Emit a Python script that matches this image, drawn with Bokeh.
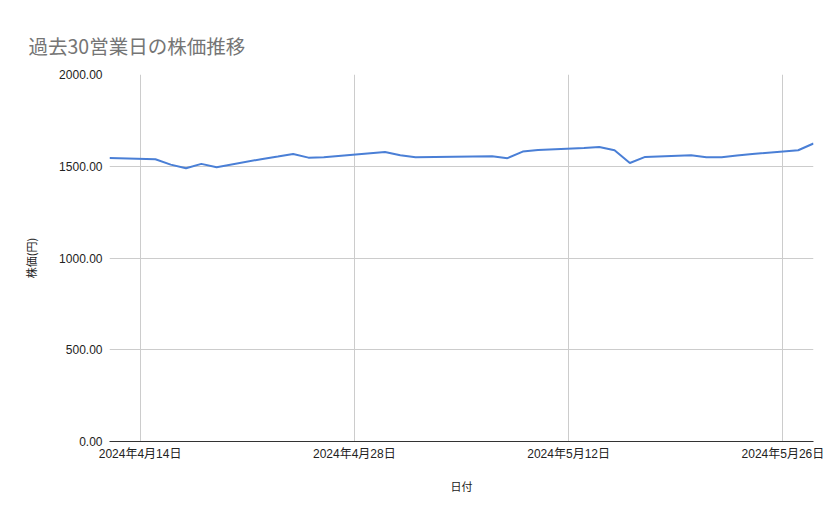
from datetime import datetime
from bokeh.plotting import figure
from bokeh.models import (ColumnDataSource, FixedTicker, CustomJSTickFormatter,
                          Range1d, Title, NumeralTickFormatter)
from bokeh.embed import file_html
from bokeh.resources import INLINE

dates = ["2024-04-12", "2024-04-15", "2024-04-16", "2024-04-17", "2024-04-18",
         "2024-04-19", "2024-04-22", "2024-04-23", "2024-04-24", "2024-04-25",
         "2024-04-26", "2024-04-30", "2024-05-01", "2024-05-02", "2024-05-07",
         "2024-05-08", "2024-05-09", "2024-05-10", "2024-05-13", "2024-05-14",
         "2024-05-15", "2024-05-16", "2024-05-17", "2024-05-20", "2024-05-21",
         "2024-05-22", "2024-05-23", "2024-05-24", "2024-05-27", "2024-05-28"]
prices = [1545, 1538, 1509, 1489, 1513,
          1495, 1540, 1553, 1567, 1547,
          1549, 1578, 1560, 1549, 1555,
          1544, 1580, 1589, 1600, 1605,
          1587, 1518, 1551, 1560, 1549,
          1549, 1558, 1567, 1587, 1624]
x_ticks = ["2024-04-14", "2024-04-28", "2024-05-12", "2024-05-26"]
y_ticks = [0, 500, 1000, 1500, 2000]

title_text = "過去30営業日の株価推移"
x_title = "日付"
y_title = "株価(円)"

FONT = "Liberation Sans, Noto Sans CJK JP"
CJK = "Noto Sans CJK JP"

def ms(s):
    return datetime.strptime(s, "%Y-%m-%d").timestamp() * 1000.0

xs = [datetime.strptime(d, "%Y-%m-%d") for d in dates]
src = ColumnDataSource(dict(x=xs, y=prices))

p = figure(width=831, height=511, x_axis_type="datetime",
           output_backend="svg", toolbar_location=None,
           min_border_left=109, min_border_right=18,
           min_border_top=74, min_border_bottom=70)
p.x_range = Range1d(xs[0], xs[-1])
p.y_range = Range1d(0, 2000)

t = Title(text=title_text, text_font=CJK, text_font_size="19.5px",
          text_color="#757575", text_font_style="normal",
          offset=-87, standoff=18, padding=6)
p.add_layout(t, "above")

p.line("x", "y", source=src, line_color="#4A7FD6", line_width=2)

p.outline_line_color = None
p.background_fill_color = "white"

xa = p.xaxis[0]
xa.ticker = FixedTicker(ticks=[ms(s) for s in x_ticks])
xa.formatter = CustomJSTickFormatter(code="""
const d = new Date(tick);
return d.getFullYear() + '年' + (d.getMonth() + 1) + '月' + d.getDate() + '日';
""")
xa.axis_line_color = "#333333"
xa.axis_line_width = 1
xa.major_tick_line_color = None
xa.minor_tick_line_color = None
xa.major_tick_out = 0
xa.minor_tick_out = 0
xa.major_label_text_font = FONT
xa.major_label_text_font_size = "12px"
xa.major_label_text_color = "#222222"
xa.major_label_standoff = 5
xa.axis_label = x_title
xa.axis_label_text_font = CJK
xa.axis_label_text_font_size = "11px"
xa.axis_label_text_font_style = "normal"
xa.axis_label_text_color = "#222222"
xa.axis_label_standoff = 14

ya = p.yaxis[0]
ya.ticker = FixedTicker(ticks=y_ticks)
ya.formatter = NumeralTickFormatter(format="0.00")
ya.axis_line_color = None
ya.major_tick_line_color = None
ya.minor_tick_line_color = None
ya.major_tick_out = 0
ya.minor_tick_out = 0
ya.major_label_text_font = FONT
ya.major_label_text_font_size = "12px"
ya.major_label_text_color = "#222222"
ya.major_label_standoff = 7
ya.axis_label = y_title
ya.axis_label_text_font = CJK
ya.axis_label_text_font_size = "11px"
ya.axis_label_text_font_style = "normal"
ya.axis_label_text_color = "#222222"
ya.axis_label_standoff = 17

p.xgrid.grid_line_color = "#CCCCCC"
p.ygrid.grid_line_color = "#CCCCCC"

open("out.html", "w").write(file_html(p, INLINE))
